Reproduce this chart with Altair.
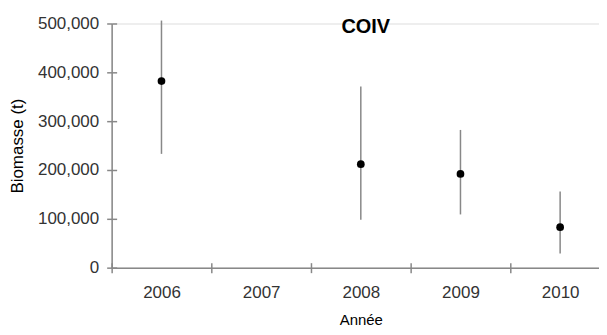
import altair as alt
import pandas as pd

years = ["2006", "2007", "2008", "2009", "2010"]
obs_years = ["2006", "2008", "2009", "2010"]
biomass = [382000, 212000, 192000, 83000]
lower = [233000, 98000, 109000, 29000]
upper = [506000, 371000, 282000, 156000]
y_ticks = [0, 100000, 200000, 300000, 400000, 500000]

df = pd.DataFrame({"year": obs_years, "b": biomass, "lo": lower, "hi": upper})

xscale = alt.Scale(domain=years, paddingInner=0, paddingOuter=0)
yscale = alt.Scale(domain=[0, 500000], nice=False)
AX = "#888"

x_axis = alt.Axis(title="Année", labelAngle=0, tickBand="extent",
                  labelFont="Liberation Sans", labelFontSize=17, labelColor="#333",
                  labelPadding=12, tickSize=5, tickColor=AX, domainColor=AX,
                  domainWidth=1.5, tickWidth=1.5,
                  titleFont="Liberation Sans", titleFontSize=15,
                  titleFontWeight="normal", titleColor="#000", titlePadding=12)
y_axis = alt.Axis(title="Biomasse  (t)", values=y_ticks, format=",d", grid=False,
                  labelFont="Liberation Sans", labelFontSize=17, labelColor="#333",
                  labelPadding=8, tickSize=5, tickColor=AX, domainColor=AX,
                  domainWidth=1.5, tickWidth=1.5,
                  titleFont="Liberation Sans", titleFontSize=17, titleFontWeight="normal",
                  titleColor="#000", titlePadding=11)

x_inner = alt.Axis(orient="bottom", offset=-5, labels=False, domain=False, title=None,
                   tickBand="extent", tickSize=5, tickColor=AX, tickWidth=1.5)
y_inner = alt.Axis(orient="left", offset=-5, labels=False, domain=False, title=None,
                   values=y_ticks, grid=False, tickSize=5, tickColor=AX, tickWidth=1.5)

bars = alt.Chart(df).mark_rule(color="#888", strokeWidth=1.5).encode(
    x=alt.X("year:N", scale=xscale, axis=x_axis),
    y=alt.Y("lo:Q", scale=yscale, axis=y_axis),
    y2="hi:Q",
)
pts = alt.Chart(df).mark_circle(color="#000", size=60, opacity=1).encode(
    x=alt.X("year:N", scale=xscale, axis=x_inner),
    y=alt.Y("b:Q", scale=yscale, axis=y_inner),
)
title = alt.Chart(pd.DataFrame({"t": ["COIV"]})).mark_text(
    font="Liberation Sans", fontSize=20, fontWeight="bold", color="#000",
    baseline="middle", align="center"
).encode(text="t:N", x=alt.value(255), y=alt.value(4))

chart = alt.layer(bars, pts, title).resolve_axis(x="independent", y="independent").properties(
    width=500, height=245,
    padding={"top": 6, "left": 0, "right": -12, "bottom": 0},
).configure_view(stroke=None).configure(background="white")

chart.save("out.html", embed_options={"renderer": "svg", "actions": False})
